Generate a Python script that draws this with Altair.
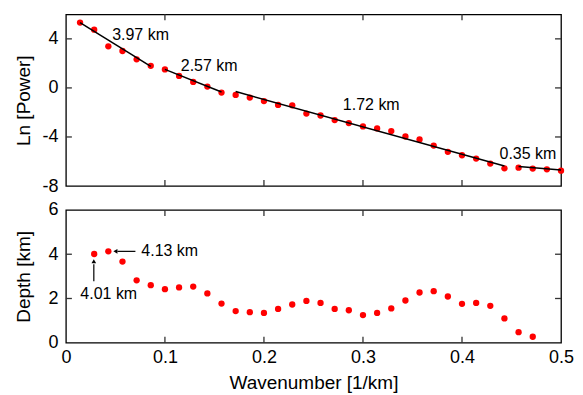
import altair as alt
import pandas as pd

# ---- data ----
wavenumber = [0.01429, 0.02857, 0.04286, 0.05714, 0.07143, 0.08571, 0.1,
              0.11429, 0.12857, 0.14286, 0.15714, 0.17143, 0.18571, 0.2,
              0.21429, 0.22857, 0.24286, 0.25714, 0.27143, 0.28571, 0.3,
              0.31429, 0.32857, 0.34286, 0.35714, 0.37143, 0.38571, 0.4,
              0.41429, 0.42857, 0.44286, 0.45714, 0.47143, 0.48571, 0.5]
ln_power = [5.33, 4.75, 3.39, 3.01, 2.33, 1.80, 1.51, 0.98, 0.49, 0.11,
            -0.38, -0.57, -0.79, -1.07, -1.39, -1.42, -2.09, -2.25, -2.62, -2.87,
            -3.14, -3.30, -3.52, -3.96, -4.20, -4.70, -5.21, -5.49, -5.76, -6.17,
            -6.56, -6.50, -6.58, -6.64, -6.75]

depth_k = [0.02857, 0.04286, 0.05714, 0.07143, 0.08571, 0.1, 0.11429, 0.12857,
           0.14286, 0.15714, 0.17143, 0.18571, 0.2, 0.21429, 0.22857, 0.24286,
           0.25714, 0.27143, 0.28571, 0.3, 0.31429, 0.32857, 0.34286, 0.35714,
           0.37143, 0.38571, 0.4, 0.41429, 0.42857, 0.44286, 0.45714, 0.47143]
depth = [4.01, 4.13, 3.67, 2.82, 2.60, 2.42, 2.50, 2.54, 2.23, 1.77, 1.43, 1.38,
         1.35, 1.53, 1.73, 1.89, 1.80, 1.53, 1.47, 1.25, 1.35, 1.55, 1.91, 2.27,
         2.33, 2.09, 1.76, 1.80, 1.67, 1.10, 0.48, 0.27]

# fitted line segments (start/end)
seg_x1 = [0.01429, 0.1, 0.17143, 0.45714]
seg_x2 = [0.08571, 0.15714, 0.44286, 0.5]
seg_y1 = [5.33, 1.51, -0.30, -6.40]
seg_y2 = [1.75, -0.33, -6.37, -6.70]

seg_labels = ["3.97 km", "2.57 km", "1.72 km", "0.35 km"]
seg_label_x = [0.0467, 0.116, 0.2797, 0.4379]
seg_label_y = [4.34, 1.77, -1.36, -5.37]

depth_labels = ["4.13 km", "4.01 km"]
depth_label_x = [0.0762, 0.0433]
depth_label_y = [4.14, 2.21]

# arrows: tail -> tip
arrow_x1 = [0.0702, 0.0282]
arrow_y1 = [4.13, 2.78]
arrow_x2 = [0.0520, 0.0282]
arrow_y2 = [4.13, 3.55]
arrow_tip_x = [0.0500, 0.0282]
arrow_tip_y = [4.13, 3.68]

x_ticks = [0, 0.1, 0.2, 0.3, 0.4, 0.5]
x_inner_ticks = [0.1, 0.2, 0.3, 0.4]
top_y_ticks = [-8, -4, 0, 4]
top_inner_ticks = [-4, 0, 4]
bot_y_ticks = [0, 2, 4, 6]
bot_inner_ticks = [2, 4]

# ---- layout ----
W = 496
H1 = 172
H2 = 133
TICK = 6
FONT = "Liberation Sans"

xscale = alt.Scale(domain=[0, 0.5], nice=False, zero=False)
yscale_top = alt.Scale(domain=[-8, 6], nice=False, zero=False)
yscale_bot = alt.Scale(domain=[0, 6], nice=False, zero=False)

pts = pd.DataFrame({"k": wavenumber, "v": ln_power})
dpts = pd.DataFrame({"k": depth_k, "v": depth})
segs = pd.DataFrame({"k": seg_x1, "k2": seg_x2, "v": seg_y1, "v2": seg_y2})
slab = pd.DataFrame({"k": seg_label_x, "v": seg_label_y, "t": seg_labels})
dlab1 = pd.DataFrame({"k": depth_label_x[:1], "v": depth_label_y[:1], "t": depth_labels[:1]})
dlab2 = pd.DataFrame({"k": depth_label_x[1:], "v": depth_label_y[1:], "t": depth_labels[1:]})
arr = pd.DataFrame({"k": arrow_x1, "k2": arrow_x2, "v": arrow_y1, "v2": arrow_y2})
tip1 = pd.DataFrame({"k": arrow_tip_x[:1], "v": arrow_tip_y[:1]})
tip2 = pd.DataFrame({"k": arrow_tip_x[1:], "v": arrow_tip_y[1:]})
xt = pd.DataFrame({"k": x_inner_ticks})
yt_top = pd.DataFrame({"v": top_inner_ticks})
yt_bot = pd.DataFrame({"v": bot_inner_ticks})


def tick_layers(yt, h):
    tcol = "#333333"
    bottom = alt.Chart(xt).mark_rule(color=tcol, strokeWidth=1.3).encode(
        x="k:Q", y=alt.value(h), y2=alt.value(h - TICK))
    topt = alt.Chart(xt).mark_rule(color=tcol, strokeWidth=1.3).encode(
        x="k:Q", y=alt.value(0), y2=alt.value(TICK))
    left = alt.Chart(yt).mark_rule(color=tcol, strokeWidth=1.3).encode(
        y="v:Q", x=alt.value(0), x2=alt.value(TICK))
    right = alt.Chart(yt).mark_rule(color=tcol, strokeWidth=1.3).encode(
        y="v:Q", x=alt.value(W), x2=alt.value(W - TICK))
    return [bottom, topt, left, right]


top_pts = alt.Chart(pts).mark_circle(color="#ff0000", opacity=1, size=40).encode(
    x=alt.X("k:Q", scale=xscale, axis=None),
    y=alt.Y("v:Q", scale=yscale_top,
            axis=alt.Axis(title="Ln [Power]", values=top_y_ticks, ticks=False,
                          tickSize=0, domain=False, grid=False, labelPadding=8,
                          titlePadding=8, labelFlush=False, labelOverlap=False,
                          labelExpr="'' + datum.value")))
top_segs = alt.Chart(segs).mark_rule(color="black", strokeWidth=1.5).encode(
    x="k:Q", x2="k2:Q", y="v:Q", y2="v2:Q")
top_text = alt.Chart(slab).mark_text(align="left", baseline="middle",
                                     fontSize=16, font=FONT, color="black").encode(
    x="k:Q", y="v:Q", text="t:N")

top = alt.layer(top_pts, top_segs, top_text, *tick_layers(yt_top, H1)
                ).properties(width=W, height=H1)

bot_pts = alt.Chart(dpts).mark_circle(color="#ff0000", opacity=1, size=40).encode(
    x=alt.X("k:Q", scale=xscale,
            axis=alt.Axis(title="Wavenumber [1/km]", values=x_ticks, ticks=False,
                          tickSize=0, domain=False, grid=False, labelPadding=6,
                          titlePadding=7, labelFlush=False, labelOverlap=False,
                          format="~g")),
    y=alt.Y("v:Q", scale=yscale_bot,
            axis=alt.Axis(title="Depth [km]", values=bot_y_ticks, ticks=False,
                          tickSize=0, domain=False, grid=False, labelPadding=8,
                          titlePadding=14, labelFlush=False, labelOverlap=False,
                          labelExpr="'' + datum.value")))
bot_arrows = alt.Chart(arr).mark_rule(color="black", strokeWidth=1.2).encode(
    x="k:Q", x2="k2:Q", y="v:Q", y2="v2:Q")
bot_tip1 = alt.Chart(tip1).mark_point(filled=True, color="black", opacity=1,
                                      size=22, shape="triangle-left").encode(
    x="k:Q", y="v:Q")
bot_tip2 = alt.Chart(tip2).mark_point(filled=True, color="black", opacity=1,
                                      size=22, shape="triangle-up").encode(
    x="k:Q", y="v:Q")
bot_text1 = alt.Chart(dlab1).mark_text(
    align="left", baseline="middle", fontSize=16, font=FONT, color="black").encode(
    x="k:Q", y="v:Q", text="t:N")
bot_text2 = alt.Chart(dlab2).mark_text(
    align="center", baseline="middle", fontSize=16, font=FONT, color="black").encode(
    x="k:Q", y="v:Q", text="t:N")

bottom = alt.layer(bot_pts, bot_arrows, bot_tip1, bot_tip2, bot_text1, bot_text2,
                   *tick_layers(yt_bot, H2)
                   ).properties(width=W, height=H2)

chart = alt.vconcat(top, bottom, spacing=24, bounds="flush").properties(
    padding={"left": 6, "top": 4, "right": 0, "bottom": 0}
).configure_view(stroke="black", strokeWidth=1.3).configure_axis(
    labelFont=FONT, titleFont=FONT, labelFontSize=18, titleFontSize=19,
    labelColor="black", titleColor="black", titleFontWeight="normal"
)

chart.save("out.html", embed_options={"renderer": "svg", "actions": False})
